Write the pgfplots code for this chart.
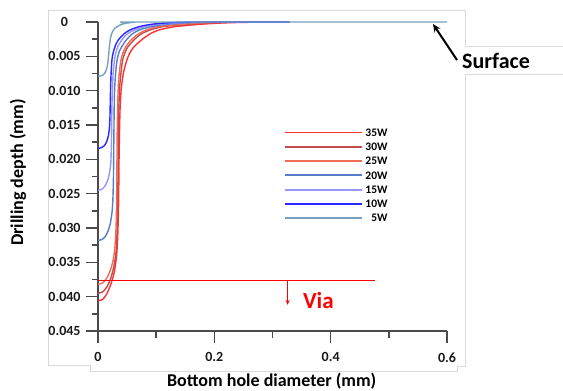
\documentclass[border=0pt]{standalone}
\usepackage{fontspec}
\setmainfont{Carlito}
\usepackage{pgfplots}
\pgfplotsset{compat=1.18}
\usetikzlibrary{arrows.meta}
\definecolor{c35}{RGB}{255,50,50}
\definecolor{c30}{RGB}{195,75,75}
\definecolor{c25}{RGB}{235,110,85}
\definecolor{c20}{RGB}{85,125,200}
\definecolor{c15}{RGB}{150,150,255}
\definecolor{c10}{RGB}{40,40,255}
\definecolor{c5}{RGB}{120,160,190}
\definecolor{axgray}{RGB}{75,75,75}
\begin{document}
\begin{tikzpicture}[x=1bp,y=1bp]
\useasboundingbox (0,0) rectangle (563,390);
\draw[gray!30, line width=0.8bp] (48,25) -- (48,379.3) -- (465,379.3) -- (465,343.3) -- (563,343.3);
\draw[gray!30, line width=0.8bp] (48,25) -- (90,25) -- (90,18.3) -- (457,18.3) -- (457,23.3) -- (465,23.3) -- (465,316) -- (563,316);
\begin{axis}[
  at={(98bp,59bp)}, anchor=south west,
  scale only axis, width=349bp, height=309bp,
  xmin=0, xmax=0.6, ymin=0, ymax=0.045, y dir=reverse,
  scaled y ticks=false, scaled x ticks=false,
  axis x line*=bottom, axis y line*=left,
  axis line style={axgray, line width=1.4bp},
  every tick/.style={axgray, line width=1.4bp},
  tick align=outside,
  major tick length=12bp, minor tick length=6.5bp,
  xtick={0,0.2,0.4,0.6}, xticklabels={0,0.2,0.4,0.6},
  minor xtick={0.1,0.3,0.5},
  ytick={0,0.005,0.010,0.015,0.020,0.025,0.030,0.035,0.040,0.045},
  yticklabels={0,0.005,0.010,0.015,0.020,0.025,0.030,0.035,0.040,0.045},
  minor ytick={0.0025,0.0075,0.0125,0.0175,0.0225,0.0275,0.0325,0.0375,0.0425},
  /pgf/number format/assume math mode=true,
  ticklabel style={font=\bfseries\fontsize{14bp}{16bp}\selectfont, text=black!90},
  yticklabel style={text width=36bp, align=center},
  xticklabel style={yshift=-6bp},
  clip=false,
  legend style={at={(axis cs:0.320,0.0151)}, anchor=north west, draw=none, fill=none,
    inner sep=0pt, outer sep=0pt, row sep=0.8bp,
    font=\bfseries\fontsize{11.5bp}{12bp}\selectfont,
    nodes={inner sep=2.5bp, text height=8bp, text depth=0.5bp}},
  legend cell align=right,
  legend image code/.code={\draw[#1, sharp plot, line width=1.8bp] (0bp,0bp) -- (77bp,0bp);},
  every axis plot/.append style={line width=1.4bp, smooth, tension=0.45},
]
\addplot[c35] coordinates {(0,0.0406)(0.008,0.0404)(0.015,0.0396)(0.022,0.0382)(0.028,0.0364)(0.032,0.034)(0.034,0.031)(0.0355,0.026)(0.036,0.021)(0.037,0.016)(0.038,0.0125)(0.040,0.0097)(0.044,0.0073)(0.051,0.0052)(0.060,0.0038)(0.075,0.0026)(0.09,0.0017)(0.105,0.00116)(0.13,0.0007)(0.16,0.00044)(0.19,0.00025)(0.22,0.00012)(0.26,0.00004)(0.30,0)(0.33,0)};
\addlegendentry{35W}
\addplot[c30] coordinates {(0,0.0395)(0.008,0.0393)(0.015,0.0386)(0.022,0.0373)(0.027,0.0357)(0.031,0.0335)(0.033,0.030)(0.034,0.026)(0.0345,0.021)(0.035,0.016)(0.036,0.012)(0.0375,0.0092)(0.040,0.0070)(0.043,0.0053)(0.050,0.0038)(0.062,0.0026)(0.075,0.0017)(0.09,0.00116)(0.11,0.0007)(0.138,0.00044)(0.165,0.00025)(0.19,0.00012)(0.23,0.00004)(0.27,0)(0.33,0)};
\addlegendentry{30W}
\addplot[c25] coordinates {(0,0.0382)(0.008,0.0380)(0.015,0.0373)(0.021,0.0362)(0.026,0.0347)(0.029,0.0328)(0.031,0.030)(0.032,0.026)(0.0325,0.021)(0.033,0.016)(0.034,0.0115)(0.0355,0.0085)(0.038,0.0064)(0.041,0.0050)(0.047,0.0037)(0.057,0.0026)(0.07,0.0017)(0.083,0.00116)(0.10,0.0007)(0.128,0.00044)(0.155,0.00025)(0.18,0.00012)(0.21,0.00004)(0.25,0)(0.33,0)};
\addlegendentry{25W}
\addplot[c20] coordinates {(0,0.0318)(0.006,0.0317)(0.012,0.0313)(0.017,0.0305)(0.021,0.0294)(0.024,0.0278)(0.0255,0.026)(0.0265,0.023)(0.027,0.019)(0.0275,0.015)(0.028,0.0115)(0.029,0.009)(0.031,0.0068)(0.033,0.0055)(0.037,0.0042)(0.047,0.0028)(0.058,0.0018)(0.071,0.00116)(0.09,0.0007)(0.108,0.00044)(0.13,0.00025)(0.155,0.00012)(0.185,0.00005)(0.22,0)(0.33,0)};
\addlegendentry{20W}
\addplot[c15] coordinates {(0,0.0245)(0.006,0.0244)(0.011,0.0240)(0.016,0.0232)(0.0195,0.0221)(0.022,0.0205)(0.023,0.018)(0.0235,0.015)(0.024,0.012)(0.025,0.0095)(0.026,0.0075)(0.028,0.0058)(0.030,0.0047)(0.034,0.0036)(0.041,0.0026)(0.051,0.0017)(0.063,0.00116)(0.08,0.0007)(0.096,0.00044)(0.115,0.00025)(0.14,0.00012)(0.165,0.00005)(0.20,0)(0.33,0)};
\addlegendentry{15W}
\addplot[c10] coordinates {(0,0.0184)(0.006,0.0183)(0.011,0.0180)(0.015,0.0174)(0.018,0.0165)(0.0195,0.0155)(0.0205,0.0140)(0.021,0.012)(0.0215,0.010)(0.0225,0.0075)(0.024,0.0055)(0.026,0.0045)(0.030,0.0034)(0.035,0.0026)(0.045,0.0017)(0.055,0.00116)(0.07,0.0007)(0.084,0.00044)(0.10,0.00025)(0.12,0.00012)(0.14,0.00005)(0.17,0)(0.33,0)};
\addlegendentry{10W}
\addplot[c5] coordinates {(0,0.0079)(0.005,0.00785)(0.009,0.0077)(0.012,0.0074)(0.014,0.0070)(0.016,0.0064)(0.0175,0.0055)(0.019,0.0041)(0.0205,0.0029)(0.022,0.0021)(0.025,0.0014)(0.029,0.0009)(0.038,0.00044)(0.047,0.0002)(0.055,0.0001)(0.072,0)(0.6,0)};
\addlegendentry{5W}
\addplot[red, line width=1.1bp, sharp plot, forget plot] coordinates {(0,0.0376)(0.477,0.0376)};
\draw[red, line width=1.1bp, -{Stealth[length=5bp,width=4bp]}] (axis cs:0.326,0.0376) -- (axis cs:0.326,0.0412);
\end{axis}
\draw[black, line width=2bp, -{Stealth[length=8bp,width=7bp]}] (457,330) -- (433,366);
\node[anchor=west, inner sep=0pt, font=\bfseries\fontsize{22bp}{24bp}\selectfont] at (462,329) {Surface};
\node[inner sep=0pt, text=red, font=\bfseries\fontsize{23bp}{24bp}\selectfont] at (318.4,89.3) {Via};
\node[inner sep=0pt, font=\bfseries\fontsize{18bp}{20bp}\selectfont] at (271.7,9) {Bottom hole diameter (mm)};
\node[inner sep=0pt, rotate=90, font=\bfseries\fontsize{18bp}{20bp}\selectfont] at (18,217.5) {Drilling depth (mm)};
\end{tikzpicture}
\end{document}
